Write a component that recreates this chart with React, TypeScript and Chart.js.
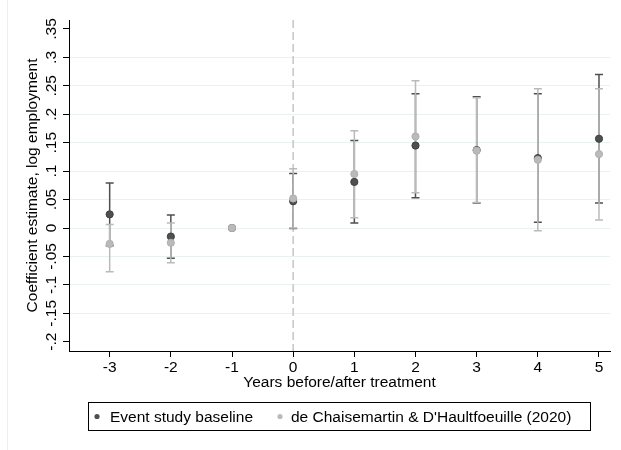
import React, { useEffect, useRef } from "react";
import { Chart, registerables } from "chart.js";
Chart.register(...registerables);

const years = [-3, -2, -1, 0, 1, 2, 3, 4, 5];
const baseCoef = [0.024, -0.015, 0, 0.047, 0.081, 0.145, 0.137, 0.123, 0.157];
const baseLo: (number | null)[] = [-0.031, -0.053, null, -0.001, 0.009, 0.053, 0.044, 0.01, 0.044];
const baseHi: (number | null)[] = [0.079, 0.023, null, 0.096, 0.154, 0.236, 0.231, 0.236, 0.27];
const dcdhCoef = [-0.028, -0.026, 0, 0.052, 0.095, 0.161, 0.136, 0.12, 0.13];
const dcdhLo: (number | null)[] = [-0.077, -0.061, null, 0.0, 0.018, 0.062, 0.045, -0.005, 0.014];
const dcdhHi: (number | null)[] = [0.006, 0.009, null, 0.104, 0.171, 0.259, 0.229, 0.245, 0.245];
const xTicks = [-3, -2, -1, 0, 1, 2, 3, 4, 5];
const yTicks = [-0.2, -0.15, -0.1, -0.05, 0, 0.05, 0.1, 0.15, 0.2, 0.25, 0.3, 0.35];
const yTickLabels = ["-.2", "-.15", "-.1", "-.05", "0", ".05", ".1", ".15", ".2", ".25", ".3", ".35"];
const seriesNames = ["Event study baseline", "de Chaisemartin & D'Haultfoeuille (2020)"];

const FONT = "'Liberation Sans', Arial, sans-serif";
const FSIZE = 15.5;
const DARK = "#4f4f4f";
const LIGHT = "#bababa";

const customPlugin = {
  id: "stataExtras",
  beforeDatasetsDraw(chart: any) {
    const { ctx, chartArea, scales } = chart;
    const x = scales.x;
    const y = scales.y;
    ctx.save();
    ctx.strokeStyle = "#c6c6c6";
    ctx.lineWidth = 1.5;
    ctx.setLineDash([8, 4]);
    const px0 = x.getPixelForValue(0);
    ctx.beginPath();
    ctx.moveTo(px0, chartArea.top);
    ctx.lineTo(px0, chartArea.bottom);
    ctx.stroke();
    ctx.restore();

    const drawBars = (lo: (number | null)[], hi: (number | null)[], color: string) => {
      ctx.save();
      ctx.strokeStyle = color;
      ctx.lineWidth = 1.5;
      for (let i = 0; i < years.length; i++) {
        const l = lo[i];
        const h = hi[i];
        if (l === null || h === null) continue;
        const px = x.getPixelForValue(years[i]);
        const pl = y.getPixelForValue(l);
        const ph = y.getPixelForValue(h);
        ctx.beginPath();
        ctx.moveTo(px, pl);
        ctx.lineTo(px, ph);
        ctx.moveTo(px - 4, pl);
        ctx.lineTo(px + 4, pl);
        ctx.moveTo(px - 4, ph);
        ctx.lineTo(px + 4, ph);
        ctx.stroke();
      }
      ctx.restore();
    };
    drawBars(baseLo, baseHi, DARK);
    drawBars(dcdhLo, dcdhHi, LIGHT);
  },
  afterDraw(chart: any) {
    const { ctx, scales } = chart;
    const y = scales.y;
    ctx.save();
    ctx.fillStyle = "#000";
    ctx.font = `${FSIZE}px ${FONT}`;
    ctx.textAlign = "center";
    ctx.textBaseline = "middle";
    yTicks.forEach((v, i) => {
      const py = y.getPixelForValue(v);
      ctx.save();
      ctx.translate(52, py);
      ctx.rotate(-Math.PI / 2);
      ctx.fillText(yTickLabels[i], 0, 0);
      ctx.restore();
    });
    ctx.restore();

    ctx.save();
    ctx.strokeStyle = "#efefef";
    ctx.lineWidth = 1;
    ctx.beginPath();
    ctx.moveTo(7.5, 0);
    ctx.lineTo(7.5, 450);
    ctx.stroke();
    ctx.restore();

    ctx.save();
    ctx.strokeStyle = "#000";
    ctx.lineWidth = 1;
    ctx.strokeRect(88.5, 402.5, 502, 28);
    ctx.font = `${FSIZE}px ${FONT}`;
    ctx.textAlign = "left";
    ctx.textBaseline = "alphabetic";
    const items = [
      { dot: 97, text: 110, color: DARK },
      { dot: 280, text: 291, color: LIGHT },
    ];
    items.forEach((it, i) => {
      ctx.fillStyle = it.color;
      ctx.beginPath();
      ctx.arc(it.dot, 416.5, 2.6, 0, Math.PI * 2);
      ctx.fill();
      ctx.fillStyle = "#000";
      ctx.fillText(seriesNames[i], it.text, 422);
    });
    ctx.restore();
  },
};

export default function App() {
  const ref = useRef<HTMLCanvasElement>(null);
  useEffect(() => {
    const font = { family: FONT, size: FSIZE };
    const chart = new Chart(ref.current as HTMLCanvasElement, {
      type: "scatter",
      data: {
        datasets: [
          {
            label: seriesNames[1],
            data: years.map((yr, i) => ({ x: yr, y: dcdhCoef[i] })),
            backgroundColor: LIGHT,
            borderColor: "#b0b0b0",
            borderWidth: 1,
            pointRadius: 3.6,
            order: 0,
          },
          {
            label: seriesNames[0],
            data: years.map((yr, i) => ({ x: yr, y: baseCoef[i] })),
            backgroundColor: DARK,
            borderColor: "#3f3f3f",
            borderWidth: 1,
            pointRadius: 3.6,
            order: 1,
          },
        ],
      },
      options: {
        animation: false,
        responsive: true,
        maintainAspectRatio: false,
        layout: { padding: { top: 20, right: 11, bottom: 50, left: 0 } },
        plugins: { legend: { display: false }, tooltip: { enabled: false } },
        scales: {
          x: {
            type: "linear",
            min: -3.665,
            max: 5.18,
            afterBuildTicks: (s: any) => {
              s.ticks = xTicks.map((v) => ({ value: v }));
            },
            afterFit: (s: any) => {
              s.height = 49;
            },
            ticks: {
              font,
              color: "#000",
              padding: 1,
              autoSkip: false,
              maxRotation: 0,
              callback: (v: any) => String(v),
            },
            grid: { drawOnChartArea: false, tickLength: 6, tickColor: "#000", tickWidth: 1 },
            border: { color: "#000", width: 1 },
            title: {
              display: true,
              text: "Years before/after treatment",
              font,
              color: "#000",
              padding: { top: 0, bottom: 7.7 },
            },
          },
          y: {
            type: "linear",
            min: -0.2163,
            max: 0.3658,
            afterBuildTicks: (s: any) => {
              s.ticks = yTicks.map((v) => ({ value: v }));
            },
            afterFit: (s: any) => {
              s.width = 69;
            },
            ticks: {
              font,
              color: "rgba(0,0,0,0)",
              autoSkip: false,
              callback: (_v: any, i: number) => yTickLabels[i],
            },
            grid: {
              color: (c: any) => {
                const v = c.tick ? c.tick.value : 0;
                if (Math.abs(v - 0.35) < 1e-6 || Math.abs(v + 0.2) < 1e-6) return "rgba(0,0,0,0)";
                return "#e9f1f2";
              },
              tickLength: 6,
              tickColor: "#000",
              tickWidth: 1,
              lineWidth: 1,
            },
            border: { color: "#000", width: 1 },
            title: {
              display: true,
              text: "Coefficient estimate, log employment",
              font,
              color: "#000",
              padding: { top: 23.7, bottom: 0 },
            },
          },
        },
      },
      plugins: [customPlugin],
    } as any);
    return () => chart.destroy();
  }, []);
  return (
    <div style={{ position: "fixed", left: 0, top: 0, width: 621, height: 450, background: "#fff" }}>
      <canvas ref={ref} />
    </div>
  );
}
